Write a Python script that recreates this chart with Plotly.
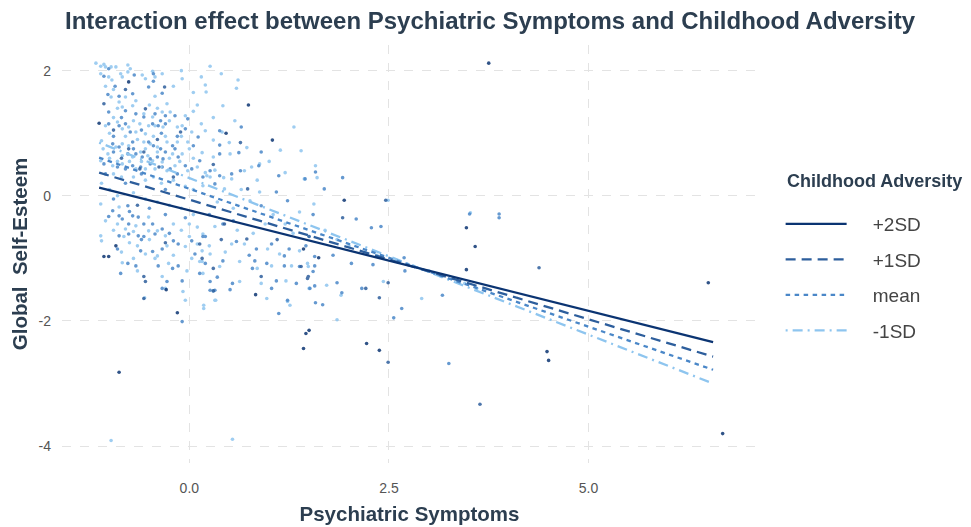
import plotly.graph_objects as go

# ---------------- data ----------------
groups = ["+2SD", "+1SD", "mean", "-1SD"]

# regression lines (endpoints of the fitted simple slopes)
line_x = [-1.13, 6.56]
line_y = {
    "+2SD": [0.13, -2.34],
    "+1SD": [0.37, -2.57],
    "mean": [0.61, -2.78],
    "-1SD": [0.85, -3.00],
}

# observed points, coloured by childhood-adversity group
pts_light = [
    (-1.17,2.12),(-1.11,2.07),(-1.07,2.10),(-1.05,2.06),(-0.98,2.06),(-0.92,2.06),(-0.77,2.09),(-0.74,2.03),
    (-1.11,1.95),(-1.01,1.90),(-0.97,1.85),(-0.86,1.95),(-0.84,1.90),(-0.77,1.98),(-0.59,1.93),(-0.55,1.87),
    (-0.46,1.99),(-0.43,1.90),(-0.34,1.95),(-0.20,1.75),(-0.09,1.87),(-0.43,1.59),(-0.28,1.47),(-0.98,1.58),
    (-0.80,1.58),(-0.67,1.52),(-0.88,1.50),(-0.84,1.42),(-0.71,1.44),(-0.57,1.31),(-0.46,1.26),(-0.34,1.34),
    (-0.24,1.34),(-0.05,1.28),(-1.05,1.12),(-0.90,1.18),(-0.84,1.07),(-0.76,1.10),(-0.67,1.02),(-0.55,0.99),
    (-0.51,1.12),(-0.43,1.12),(-0.33,1.10),(-0.09,1.12),(0.03,1.02),(-1.10,0.88),(-0.92,0.78),(-0.84,0.83),
    (-0.76,0.80),(-0.57,0.86),(-0.49,0.83),(-0.40,0.78),(-0.28,0.86),(-0.15,0.86),(-0.02,0.86),(-1.02,0.67),
    (-0.84,0.64),(-0.71,0.62),(-0.61,0.70),(-0.52,0.64),(-0.46,0.56),(-0.34,0.54),(-0.21,0.67),(-0.09,0.67),
    (-1.11,0.56),(-0.96,0.48),(-0.84,0.51),(-0.67,0.43),(-0.55,0.43),(-0.43,0.43),(-0.28,0.40),(-0.18,0.48),
    (-0.02,0.40),(0.10,0.46),(0.26,2.07),(0.61,1.85),(0.59,1.72),(0.20,1.77),(0.21,1.66),(0.42,1.44),
    (0.57,1.20),(1.31,1.10),(0.20,1.04),(0.41,1.02),(0.30,0.89),(0.72,0.77),(1.14,0.73),(0.16,0.69),
    (0.30,0.62),(0.51,0.67),(0.88,0.51),(0.78,0.46),(0.69,0.40),(0.32,0.41),(0.20,0.37),(1.20,0.37),
    (0.26,0.30),(0.43,0.29),(-1.11,-0.64),(-1.10,-0.72),(-0.90,-0.45),(-0.80,-0.53),(-0.67,-0.48),(-0.51,-0.34),
    (-0.82,-0.65),(-0.70,-0.57),(-0.51,-0.56),(-0.40,-0.56),(-0.30,-0.64),(-0.55,-0.93),(-0.40,-0.96),(-0.28,-0.80),
    (-0.05,-0.81),(0.10,-0.77),(0.16,-0.88),(-0.84,-1.07),(-0.65,-1.20),(-0.43,-1.00),(-0.26,-1.08),(-0.03,-1.20),
    (-0.34,-1.29),(-0.30,-1.48),(-0.08,-1.53),(-0.05,-1.67),(0.03,-1.00),(0.13,-1.05),(-1.11,-0.13),(-0.88,-0.18),
    (0.22,0.32),(0.53,0.27),(0.88,0.06),(1.44,0.27),(0.17,0.16),(0.44,0.11),(1.38,-0.26),(0.76,-0.08),
    (0.17,-0.61),(0.32,-0.49),(0.53,-0.77),(0.69,-0.77),(0.98,-0.85),(1.13,-0.93),(1.38,-0.88),(1.50,-0.65),
    (0.16,-1.05),(0.26,-0.93),(0.38,-1.13),(0.63,-1.05),(0.85,-1.16),(1.03,-1.12),(1.28,-1.12),(1.48,-1.08),
    (0.17,-1.24),(0.30,-1.52),(0.63,-1.37),(0.90,-1.40),(1.21,-1.36),(1.50,-1.48),(0.97,-1.64),(0.32,-1.67),
    (3.52,-0.27),(2.43,-1.37),(2.49,-0.07),(1.58,0.48),(1.60,0.29),(1.56,-0.13),(1.40,0.72),(1.49,-1.13),
    (1.72,-1.43),(1.85,-1.98),(2.91,-1.64),(-0.98,-3.91),(0.54,-3.89),(-0.56,-1.63),(0.18,-1.75),(0.18,-1.80),
    (0.33,-1.67),(1.26,-1.75),(1.23,-1.69),(1.90,-1.59),
    (-1.05,1.75),(-0.95,1.70),(-0.90,1.40),(-0.95,1.25),(-0.70,1.20),(-0.62,1.15),(-0.50,1.45),(-0.40,1.40),
    (-0.25,1.20),(-0.15,1.10),(-0.10,0.95),(-0.30,0.95),(-0.45,0.95),(-0.65,0.90),(-0.80,0.95),(-1.00,1.00),
    (-1.08,0.75),(-1.00,0.60),(-0.90,0.55),(-0.75,0.55),(-0.60,0.55),(-0.55,0.75),(-0.40,0.70),(-0.25,0.60),
    (-0.12,0.55),(0.05,0.60),(0.00,0.75),(-0.95,0.35),(-0.85,0.30),(-0.70,0.30),(-0.55,0.25),(-0.45,0.30),
    (-0.35,0.20),(-0.20,0.25),(-0.05,0.15),(0.05,0.10),(-1.10,0.20),(-1.00,0.10),(-0.90,0.00),(-0.70,0.05),
    (-0.55,-0.05),(-0.40,-0.10),(-0.25,-0.15),(-0.10,-0.20),(0.05,-0.30),(-1.05,-0.40),(-0.95,-0.55),(-0.75,-0.75),
    (-0.65,-0.80),(-0.50,-0.70),(-0.20,-0.45),(-0.10,-0.55),(0.00,-0.45),(0.10,-0.50),(-0.85,-0.90),(-0.70,-1.00),
    (-0.20,-0.95),(0.00,-0.65),(0.25,-0.80),(0.45,-0.90),(0.60,-0.55),(0.80,-0.60),(0.95,-0.45),(0.55,-0.20),
    (0.35,-0.10),(0.65,0.10),(0.85,0.25),(1.00,0.55),(0.50,0.85),(0.30,1.25),(0.10,1.45),(0.05,1.65),
    (-0.10,2.00),(0.15,1.90),(0.40,1.95),(0.05,1.35),(0.15,1.15),(1.05,-0.30),(1.20,-0.45),(1.30,-0.60),
    (1.70,-0.55),(1.85,-0.70),(2.00,-0.80),(2.20,-0.90),(2.35,-0.95),(2.60,-1.05),(2.80,-1.12),(3.00,-1.20),
    (3.15,-1.28),(3.30,-1.32),(3.45,-1.40),(3.60,-1.48),
]
pts_mean = [
    (-1.01,2.03),(-1.07,1.91),(-0.93,1.75),(-0.69,1.93),(-0.45,1.95),(-0.51,1.74),(-0.45,1.83),(-0.34,1.64),
    (-0.88,1.59),(-0.71,1.63),(-1.01,1.34),(-0.80,1.36),(-0.67,1.31),(-0.57,1.26),(-0.43,1.31),(-0.30,1.28),
    (-0.36,1.20),(-0.18,1.28),(-0.02,1.23),(-1.01,1.15),(-0.88,1.12),(-0.80,1.15),(-0.74,1.02),(-0.46,1.15),
    (-0.39,1.12),(-0.30,1.15),(-0.05,1.07),(0.11,0.94),(-0.96,0.83),(-0.88,0.78),(-0.71,0.86),(-0.51,0.86),
    (-0.45,0.80),(-0.36,0.75),(-0.21,0.80),(-0.18,0.75),(-0.95,0.70),(-0.77,0.67),(-0.67,0.67),(-0.59,0.62),
    (-0.49,0.59),(-0.40,0.62),(-0.33,0.59),(-0.14,0.62),(-1.07,0.51),(-0.90,0.46),(-0.80,0.43),(-0.71,0.48),
    (-0.61,0.46),(-0.49,0.51),(-0.34,0.46),(-0.24,0.43),(-0.05,0.48),(0.03,0.43),(0.13,0.56),(0.38,1.04),
    (0.38,0.81),(0.38,0.67),(0.62,0.69),(0.87,0.48),(0.64,0.40),(0.53,0.35),(0.26,0.40),(1.12,0.32),
    (0.17,0.30),(-0.88,-0.32),(-0.84,-0.37),(-0.76,-0.45),(-0.71,-0.32),(-0.64,-0.34),(-0.57,-0.45),(-0.46,-0.45),
    (-0.88,-0.64),(-0.76,-0.61),(-0.64,-0.64),(-0.57,-0.65),(-0.43,-0.61),(-0.34,-0.53),(-0.61,-0.88),(-0.46,-0.89),
    (-0.34,-0.85),(-0.20,-0.72),(-0.14,-0.77),(0.03,-0.72),(0.17,-0.65),(-0.77,-1.08),(-0.67,-1.12),(-0.39,-1.12),
    (-0.21,-1.16),(-0.14,-1.12),(-0.86,-1.24),(-0.28,-1.37),(-0.09,-1.36),(0.13,-1.24),(0.07,-0.93),(-0.96,-0.24),
    (-1.01,-0.33),(-0.77,-0.16),(0.38,0.32),(0.32,0.19),(1.09,0.06),(1.23,-0.08),(0.90,-0.16),(0.20,-0.65),
    (0.42,-0.45),(0.59,-0.73),(0.84,-0.85),(1.03,-0.77),(1.19,-0.96),(1.25,-0.85),(1.46,-0.80),(1.57,-0.97),
    (0.20,-1.08),(0.42,-1.04),(0.82,-1.04),(0.97,-1.08),(1.19,-1.12),(1.38,-1.13),(1.57,-1.12),(0.26,-1.37),
    (0.54,-1.40),(0.79,-1.16),(1.09,-1.36),(1.34,-1.40),(1.51,-1.48),(1.57,-1.44),(1.23,-1.67),(1.03,-1.48),
    (2.09,-0.37),(2.28,-0.51),(2.40,-0.49),(1.92,0.29),(1.69,0.11),(1.58,0.38),(1.45,0.27),(1.55,-0.30),
    (1.55,-1.21),(2.03,-1.08),(1.91,-1.55),(1.85,-1.39),(1.58,-1.71),(1.67,-1.74),(2.16,-1.48),(2.66,-1.80),
    (2.56,-1.95),(3.51,-0.29),(3.88,-0.29),(3.88,-0.35),(2.69,-0.99),(3.25,-2.68),(3.17,-1.59),(0.26,-1.51),
    (0.32,-1.51),(0.51,-1.50),(-0.34,-1.48),(-0.09,-2.01),(1.12,-1.88),
    (-1.02,1.62),(-0.85,1.25),(-0.60,1.05),(-0.35,1.00),(-0.15,0.95),(-0.95,0.95),(-0.70,0.75),(-0.30,0.70),
    (-1.05,0.35),(-0.80,0.20),(-0.60,0.35),(-0.30,0.10),(-0.15,0.35),(-0.95,-0.05),(-0.75,-0.25),(-0.50,-0.20),
    (-0.30,-0.30),(-0.05,-0.35),(-0.90,-0.85),(-0.60,-0.70),(-0.25,-0.60),(0.25,-0.30),(0.55,-0.40),(0.75,-0.95),
    (0.35,-1.30),(0.65,1.10),(0.90,0.70),(0.05,0.80),(1.80,-0.95),(2.30,-1.10),(2.70,-1.20),
]
pts_plus1 = [
    (-0.31,1.74),(-1.07,1.47),(-0.55,1.39),(-0.11,1.02),(0.64,0.85),(-0.57,0.70),(-0.76,0.75),(-0.62,0.43),
    (-0.38,0.46),(-0.57,-1.29),(-0.55,-1.37),(-0.57,-1.64),(0.13,-0.77),(0.16,-1.00),(0.73,0.11),(0.44,-0.45),
    (0.72,-0.69),(1.50,-0.65),(0.30,-1.16),(1.48,-1.32),(0.90,-1.29),(0.30,-1.52),(1.92,-0.35),(1.40,-1.13),
    (1.49,-1.29),(2.46,-0.07),(2.21,-1.48),(2.38,-1.63),(2.49,-1.39),(4.38,-1.15),(2.49,-2.66),(3.64,-3.33),
    (-0.95,1.05),(-0.40,0.90),(-0.85,0.60),(-0.20,0.30),(-0.65,-0.15),(-0.30,-0.75),(0.40,-0.70),(-0.80,1.70),
    (0.30,0.50),(1.10,-0.70),
]
pts_plus2 = [
    (3.75,2.12),(6.50,-1.39),(6.68,-3.80),(4.48,-2.49),(4.50,-2.63),(2.22,-2.36),(2.38,-2.47),(3.47,-0.51),
    (3.58,-0.81),(3.47,-1.18),(1.94,-0.07),(1.43,-0.85),(1.62,-0.99),(1.50,-2.15),(1.46,-2.20),(1.43,-2.44),
    (-0.88,-2.82),(-0.15,-1.87),(0.83,-1.58),(-0.29,-1.50),(0.74,1.45),(1.04,0.89),(0.46,1.00),(-0.76,1.82),
    (-1.13,1.16),(-0.92,-0.80),(-1.07,-0.97),(-1.01,-0.97),
]
points = {"+2SD": pts_plus2, "+1SD": pts_plus1, "mean": pts_mean, "-1SD": pts_light}

x_ticks = [0.0, 2.5, 5.0]
x_ticklabels = ["0.0", "2.5", "5.0"]
y_ticks = [-4, -2, 0, 2]
y_ticklabels = ["-4", "-2", "0", "2"]

# ---------------- style ----------------
colors = {"+2SD": "#0b3472", "+1SD": "#2d5e9c", "mean": "#4a87c8", "-1SD": "#8ec5ef"}
dashes = {"+2SD": "solid", "+1SD": "10px,6px", "mean": "4.5px,4.5px", "-1SD": "2px,5px,10px,5px"}
FONT = "Liberation Sans, Arial, sans-serif"
TXT = "#2c3e50"
NB = "\u00a0\u00a0\u00a0\u00a0"

W, H = 963, 519  # page has an 8px body margin
L, R, T, B = 54, 214, 37, 64
PW, PH = W - L - R, H - T - B

fig = go.Figure()
for g in ["-1SD", "mean", "+1SD", "+2SD"]:
    pts = points[g]
    fig.add_trace(go.Scatter(
        x=[p[0] for p in pts], y=[p[1] for p in pts], mode="markers",
        marker=dict(size=3.6, color=colors[g], line=dict(width=0)),
        opacity=0.85, showlegend=False, hoverinfo="skip"))

for i, g in enumerate(["-1SD", "mean", "+1SD", "+2SD"]):
    fig.add_trace(go.Scatter(
        x=line_x, y=line_y[g], mode="lines", name=NB + g, legendgroup=g,
        legendrank=4 - i,
        line=dict(color=colors[g], width=2.3, dash=dashes[g])))

fig.add_annotation(
    text="<b>Childhood Adversity</b>", xref="paper", yref="paper",
    x=(777 - L) / PW, y=(T + PH - 173) / PH, xanchor="left", yanchor="middle",
    showarrow=False, font=dict(size=18, color=TXT, family=FONT))

fig.update_layout(
    width=W, height=H,
    margin=dict(l=L, r=R, t=T, b=B, autoexpand=False),
    paper_bgcolor="white", plot_bgcolor="white",
    font=dict(family=FONT, color=TXT),
    title=dict(text="<b>Interaction effect between Psychiatric Symptoms and Childhood Adversity</b>",
               x=482 / W, xanchor="center", xref="container", y=1 - 13 / H, yref="container", yanchor="middle",
               font=dict(size=24, color=TXT, family=FONT)),
    xaxis=dict(range=[-1.595, 7.11], tickvals=x_ticks, ticktext=x_ticklabels,
               showgrid=True, gridcolor="#e3e3e3", griddash="dash", gridwidth=1.2,
               zeroline=False, showline=False, ticks="", ticklabelstandoff=15,
               tickfont=dict(size=14, color="#555555"),
               title=dict(text="<b>Psychiatric Symptoms</b>", font=dict(size=20.5, color=TXT), standoff=11)),
    yaxis=dict(range=[-4.27, 2.41], tickvals=y_ticks, ticktext=y_ticklabels,
               showgrid=True, gridcolor="#e3e3e3", griddash="dash", gridwidth=1.2,
               zeroline=False, showline=False, ticks="", ticklabelstandoff=10,
               tickfont=dict(size=14, color="#555555"),
               title=dict(text="<b>Global  Self-Esteem</b>", font=dict(size=20.5, color=TXT), standoff=22)),
    legend=dict(x=1.034, xanchor="left", y=0.617, yanchor="top",
                font=dict(size=19, color="#444444"), tracegroupgap=7.8, itemwidth=61,
                bgcolor="rgba(0,0,0,0)"),
)

fig.write_html("out.html")
